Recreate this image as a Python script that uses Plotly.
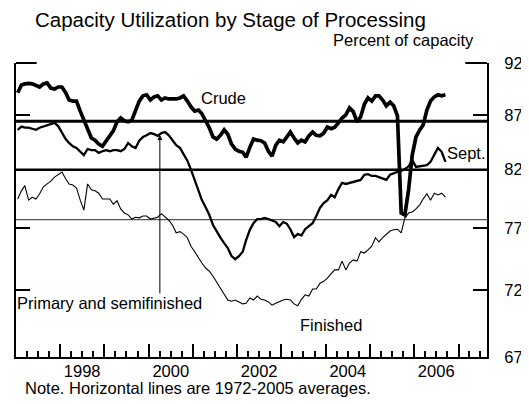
import math
import plotly.graph_objects as go

# ---------------- data (monthly, Jan 1997 - Sep 2006) ----------------
months = [f"{1997 + i // 12}-{i % 12 + 1:02d}-15" for i in range(117)]

crude = [89.1, 89.85, 89.95, 90.0, 89.95, 89.75, 89.65, 89.95, 90.05, 89.55,
         89.45, 89.65, 89.65, 89.1, 88.4, 88.3, 88.3, 87.35, 86.5, 85.7,
         84.85, 84.65, 84.3, 84.1, 84.6, 85.1, 85.5, 86.35, 86.7, 86.45,
         86.35, 86.5, 87.45, 88.3, 88.8, 88.9, 88.4, 88.7, 88.8, 88.4,
         88.6, 88.5, 88.5, 88.5, 88.6, 88.8, 88.3, 87.75, 87.35, 87.45,
         87.1, 86.5, 85.8, 84.95, 84.75, 85.1, 85.6, 85.2, 84.3, 83.85,
         83.65, 83.55, 83.1, 84.0, 84.75, 84.65, 84.6, 84.4, 83.65, 83.2,
         84.2, 84.65, 84.5, 84.95, 85.4, 84.85, 84.4, 84.65, 84.5, 85.05,
         85.4, 85.1, 85.05, 85.3, 85.85, 85.7, 85.85, 86.25, 86.7, 87.0,
         87.65, 87.3, 86.35, 86.8, 88.0, 88.6, 88.3, 88.8, 88.8, 88.4,
         87.85, 88.2, 87.85, 86.9, 78.25, 78.1, 80.25, 83.3, 84.95, 85.6,
         86.05, 87.45, 88.3, 88.7, 88.9, 88.8, 88.9]

primary = [85.6, 85.9, 85.8, 85.8, 85.7, 85.6, 85.8, 85.9, 86.05, 86.15,
           86.25, 85.95, 85.3, 84.75, 84.4, 84.1, 83.95, 83.6, 83.3, 83.85,
           83.75, 83.75, 83.5, 83.65, 83.75, 83.65, 83.75, 83.75, 83.65, 83.85,
           84.4, 84.1, 83.95, 84.6, 84.95, 85.1, 85.3, 85.2, 85.05, 85.3,
           85.4, 85.1, 84.65, 84.2, 83.95, 83.4, 82.8, 82.0, 81.1, 80.15,
           79.35, 78.75, 78.1, 77.25, 76.7, 76.2, 75.75, 75.35, 74.7, 74.45,
           74.7, 75.05, 76.0, 76.85, 77.4, 77.75, 77.75, 77.85, 77.75, 77.65,
           77.5, 77.15, 77.5, 77.35, 76.9, 76.25, 76.5, 76.4, 76.9, 77.15,
           77.4, 78.0, 78.7, 79.1, 79.35, 79.8, 79.6, 80.3, 80.85, 80.75,
           80.85, 80.95, 81.0, 81.1, 81.55, 81.6, 81.45, 81.45, 81.35, 81.2,
           81.1, 81.55, 81.7, 81.8, 81.9, 82.05, 82.3, 82.85, 82.25, 82.3,
           82.4, 82.4, 82.7, 83.4, 83.95, 83.6, 82.7]

finished = [79.45, 80.15, 80.6, 79.35, 79.6, 79.45, 79.9, 80.5, 80.75, 81.0,
            81.35, 81.55, 81.8, 81.2, 80.75, 80.65, 80.4, 79.35, 78.5, 80.75,
            80.25, 80.15, 79.95, 79.45, 79.45, 79.45, 79.0, 79.3, 78.6, 78.25,
            78.1, 77.75, 77.9, 77.85, 78.0, 78.0, 77.75, 77.85, 77.9, 78.2,
            77.9, 77.65, 77.25, 76.6, 76.7, 76.5, 76.2, 75.5, 75.05, 74.55,
            74.15, 73.75, 73.5, 73.1, 72.65, 72.2, 71.7, 71.25, 71.15, 71.25,
            71.1, 70.95, 71.0, 71.4, 71.25, 71.55, 71.3, 71.25, 71.1, 70.85,
            71.0, 71.15, 71.25, 71.3, 71.25, 70.95, 70.8, 71.3, 71.65, 71.55,
            72.1, 72.1, 72.55, 72.7, 72.95, 73.3, 73.6, 73.6, 74.3, 73.6,
            74.15, 74.4, 74.3, 75.05, 74.95, 75.2, 75.5, 76.2, 75.85, 76.2,
            76.5, 76.75, 76.85, 76.9, 76.6, 77.85, 78.25, 78.35, 78.6, 78.95,
            79.45, 79.9, 79.35, 79.95, 79.8, 79.95, 79.6]

# 1972-2005 averages
avg_crude = 86.4
avg_primary = 82.0
avg_finished = 77.7

y_ticks = [67, 72, 77, 82, 87, 92]
year_ticks = list(range(1997, 2008))
year_labels = ["1998", "2000", "2002", "2004", "2006"]

# ---------------- figure ----------------
X_RANGE = ["1997-01-01", "2007-08-24"]
FONT = "Liberation Sans, Arial, Helvetica, sans-serif"
FS = 16.5

fig = go.Figure()

def hline(val, width, color):
    fig.add_trace(go.Scatter(x=X_RANGE, y=[val, val], mode="lines",
                             line=dict(color=color, width=width),
                             hoverinfo="skip", showlegend=False))

hline(avg_finished, 1.2, "#555555")
hline(avg_primary, 2.6, "black")
hline(avg_crude, 3.0, "black")

fig.add_trace(go.Scatter(x=months, y=finished, mode="lines",
                         line=dict(color="black", width=1.1), showlegend=False))
fig.add_trace(go.Scatter(x=months, y=primary, mode="lines",
                         line=dict(color="black", width=2.3), showlegend=False))
fig.add_trace(go.Scatter(x=months, y=crude, mode="lines",
                         line=dict(color="black", width=3.7), showlegend=False))

# plot area geometry (screen pixels) for label placement
PX0, PX1, PY0, PY1 = 14.0, 492.0, 63.0, 357.0
def px(x):
    return (x - PX0) / (PX1 - PX0)
def py(y):
    return (PY1 - y) / (PY1 - PY0)

def label(text, x, y, xanchor="left", size=FS):
    fig.add_annotation(text=text, xref="paper", yref="paper", x=px(x), y=py(y),
                       xanchor=xanchor, yanchor="middle", showarrow=False,
                       font=dict(family=FONT, size=size, color="black"))

label("Capacity Utilization by Stage of Processing", 31, 19, size=20.5)
label("Percent of capacity", 481, 40, xanchor="right")
label("Crude", 225, 98, xanchor="center")
label("Sept.", 449, 153)
label("Primary and semifinished", 13, 303)
label("Finished", 334, 325, xanchor="center")
label("Note. Horizontal lines are 1972-2005 averages.", 21, 388)

# arrow from label up to the primary series
fig.add_annotation(text="", xref="paper", yref="paper", x=px(160), y=py(135),
                   ax=0, ay=160, showarrow=True, arrowhead=2, arrowsize=1,
                   arrowwidth=1, arrowcolor="black")

# longer top ticks at 92
fig.add_shape(type="line", xref="paper", yref="paper", x0=0, x1=px(35), y0=1, y1=1,
              line=dict(color="black", width=2))
fig.add_shape(type="line", xref="paper", yref="paper", x0=px(470), x1=1, y0=1, y1=1,
              line=dict(color="black", width=2))

# page body has an 8px margin: shrink figure and margins to compensate
fig.update_layout(
    width=521, height=396,
    margin=dict(l=6, r=37, t=55, b=47),
    paper_bgcolor="white", plot_bgcolor="white",
    font=dict(family=FONT, size=FS, color="black"),
    showlegend=False,
    xaxis=dict(type="date", range=X_RANGE, showline=True, linecolor="black",
               linewidth=2, showgrid=False, zeroline=False,
               tickmode="array", tickvals=[f"{y}-01-01" for y in year_ticks],
               ticks="inside", ticklen=13, tickwidth=2, tickcolor="black",
               showticklabels=False,
               minor=dict(dtick="M3", tick0="1997-01-01", ticks="inside",
                          ticklen=6, tickwidth=1.5, tickcolor="black",
                          showgrid=False)),
    xaxis2=dict(type="date", range=X_RANGE, overlaying="x", anchor="y",
                side="bottom", showline=False, showgrid=False, zeroline=False,
                tickmode="array", tickvals=[f"{t}-07-01" for t in year_labels],
                ticktext=year_labels, ticks="", ticklabelstandoff=2,
                tickfont=dict(family=FONT, size=FS, color="black")),
    yaxis=dict(type="log", range=[math.log10(67), math.log10(92)], side="right",
               showline=True, linecolor="black", linewidth=2, mirror="ticks",
               showgrid=False, zeroline=False,
               tickmode="array", tickvals=y_ticks,
               ticktext=[str(v) for v in y_ticks],
               ticks="inside", ticklen=14, tickwidth=2, tickcolor="black",
               ticklabelstandoff=12,
               tickfont=dict(family=FONT, size=FS, color="black")),
)

# invisible trace to activate xaxis2
fig.add_trace(go.Scatter(x=[X_RANGE[0]], y=[80], xaxis="x2", mode="markers",
                         marker=dict(opacity=0), hoverinfo="skip", showlegend=False))

fig.write_html("out.html", config={"displayModeBar": False})
